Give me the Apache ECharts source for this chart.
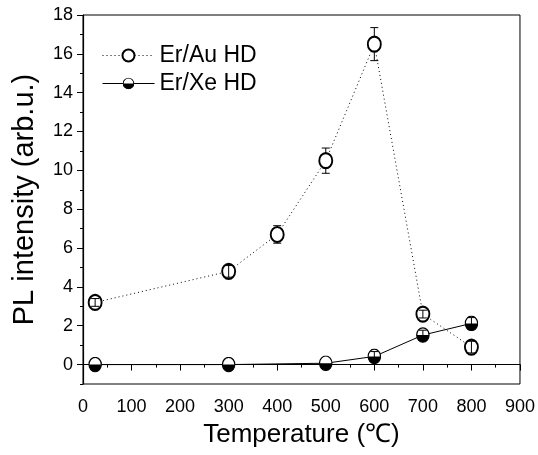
<!DOCTYPE html>
<html>
<head>
<meta charset="utf-8">
<script src="https://cdn.jsdelivr.net/npm/echarts@6/dist/echarts.min.js"></script>
<style>
  html, body { margin: 0; padding: 0; background: #ffffff; }
  #main { width: 538px; height: 455px; }
</style>
</head>
<body>
<div id="main"></div>
<script>
// data
var temps = [25, 300, 400, 500, 600, 700, 800];
var auVals = [3.2, 4.8, 6.7, 10.5, 16.5, 2.6, 0.9];
var auErr = [0.2, 0.3, 0.45, 0.65, 0.85, 0.2, 0.3];
var xeTemps = [25, 300, 500, 600, 700, 800];
var xeVals = [0, 0, 0.07, 0.42, 1.52, 2.12];
var xeErr = [0, 0, 0, 0.25, 0.25, 0.3];
var xTicks = [0, 100, 200, 300, 400, 500, 600, 700, 800, 900];
var yTicks = [0, 2, 4, 6, 8, 10, 12, 14, 16, 18];

var FONT = "'Liberation Sans', Arial, sans-serif";
var MW = 14, MH = 16; // marker size

var halfSvg = "<svg xmlns='http://www.w3.org/2000/svg' width='28' height='32' viewBox='0 0 14 16'>" +
  "<ellipse cx='7' cy='8' rx='6.2' ry='7.2' fill='white' stroke='black' stroke-width='1.2'/>" +
  "<path d='M0.8 8 A6.2 7.2 0 0 0 13.2 8 Z' fill='black'/></svg>";
var halfSymbol = 'image://data:image/svg+xml;charset=utf-8,' + encodeURIComponent(halfSvg);

function pairs(xs, ys, es) {
  return xs.map(function (x, i) { return es ? [x, ys[i], es[i]] : [x, ys[i]]; });
}

// error bars, hidden behind the marker where the bar is longer than it
function errRender(params, api) {
  var x = api.value(0), y = api.value(1), e = api.value(2);
  if (!(e > 0)) return null;
  var c = api.coord([x, y]);
  var top = api.coord([x, y + e])[1];
  var bot = api.coord([x, y - e])[1];
  var cw = 4;
  var st = { stroke: '#000', lineWidth: 1 };
  var kids = [];
  if (c[1] - top > MH / 2) {
    kids.push({ type: 'line', shape: { x1: c[0], y1: top, x2: c[0], y2: c[1] - MH / 2 }, style: st });
    kids.push({ type: 'line', shape: { x1: c[0], y1: c[1] + MH / 2, x2: c[0], y2: bot }, style: st });
  } else {
    kids.push({ type: 'line', shape: { x1: c[0], y1: top, x2: c[0], y2: bot }, style: st });
  }
  kids.push({ type: 'line', shape: { x1: c[0] - cw, y1: top, x2: c[0] + cw, y2: top }, style: st });
  kids.push({ type: 'line', shape: { x1: c[0] - cw, y1: bot, x2: c[0] + cw, y2: bot }, style: st });
  return { type: 'group', children: kids };
}

var chart = echarts.init(document.getElementById('main'));
chart.setOption({
  animation: false,
  textStyle: { fontFamily: FONT, color: '#000' },
  grid: {
    left: 83, right: 16, top: 15, bottom: 71,
    show: true, borderColor: '#000', borderWidth: 1
  },
  legend: {
    orient: 'vertical',
    left: 97, top: 39,
    itemWidth: 52, itemHeight: 15, itemGap: 5,
    lineStyle: { width: 1 },
    textStyle: { fontFamily: FONT, fontSize: 23, color: '#000' },
    data: ['Er/Au HD', 'Er/Xe HD']
  },
  xAxis: {
    type: 'value',
    min: 0, max: 900, interval: 100,
    name: 'Temperature (℃)',
    nameLocation: 'middle', nameGap: 38,
    nameTextStyle: { fontFamily: FONT, fontSize: 26, color: '#000' },
    axisLine: { lineStyle: { color: '#000', width: 1.2 } },
    axisTick: { length: 6, lineStyle: { color: '#000' } },
    minorTick: { show: true, splitNumber: 2, length: 3, lineStyle: { color: '#000' } },
    splitLine: { show: false },
    axisLabel: {
      fontSize: 18, color: '#000', margin: 14,
      customValues: xTicks
    }
  },
  yAxis: [{
    type: 'value',
    min: -1, max: 18, interval: 1,
    name: 'PL intensity (arb.u.)',
    nameLocation: 'middle', nameGap: 44,
    nameTextStyle: { fontFamily: FONT, fontSize: 29, color: '#000' },
    axisLine: { lineStyle: { color: '#000', width: 1.2 } },
    axisTick: { length: 3, lineStyle: { color: '#000' } },
    splitLine: { show: false },
    axisLabel: { show: false }
  }, {
    type: 'value',
    position: 'left',
    min: -1, max: 18,
    axisLine: { show: false },
    axisTick: { length: 6, lineStyle: { color: '#000' }, customValues: yTicks },
    splitLine: { show: false },
    axisLabel: { fontSize: 18, color: '#000', margin: 10, customValues: yTicks }
  }],
  series: [{
    name: 'Er/Xe HD',
    type: 'line',
    z: 2,
    data: pairs(xeTemps, xeVals),
    symbol: halfSymbol,
    symbolSize: [MW, MH],
    lineStyle: { color: '#000', width: 1, type: 'solid' },
    itemStyle: { color: '#000' }
  }, {
    name: 'Er/Au HD',
    type: 'line',
    z: 3,
    data: pairs(temps, auVals),
    symbol: 'emptyCircle',
    symbolSize: [MW - 1, MH - 1],
    lineStyle: { color: '#000', width: 1, type: [1, 3] },
    itemStyle: { color: '#000', borderColor: '#000', borderWidth: 1.2 }
  }, {
    type: 'custom',
    z: 4,
    renderItem: errRender,
    data: pairs(temps, auVals, auErr),
    silent: true
  }, {
    type: 'custom',
    z: 4,
    renderItem: errRender,
    data: pairs(xeTemps, xeVals, xeErr),
    silent: true
  }]
});
</script>
</body>
</html>
